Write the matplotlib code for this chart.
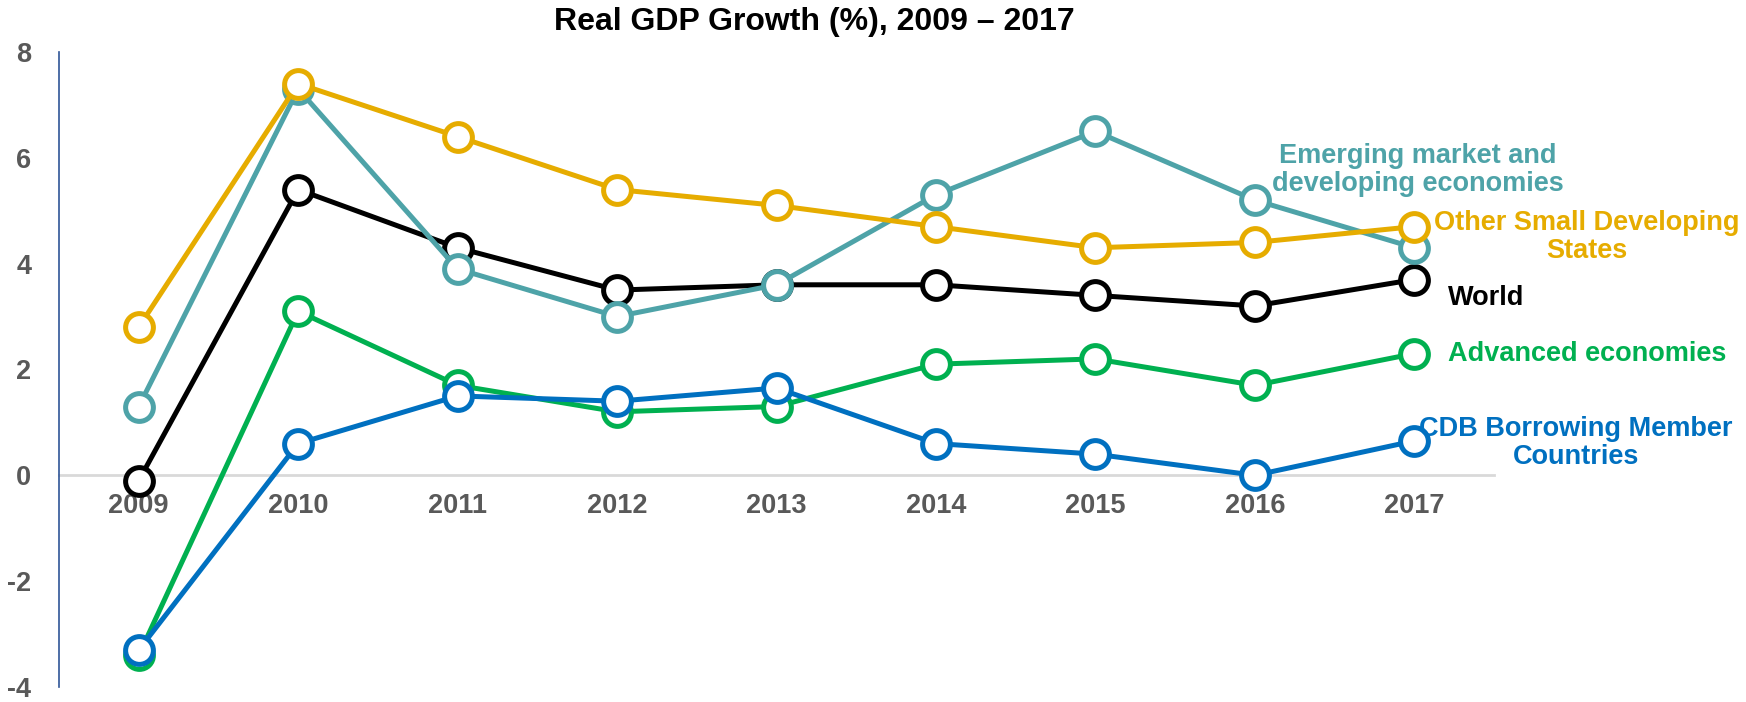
import matplotlib.pyplot as plt

plt.rcParams['font.family'] = ['Liberation Sans', 'DejaVu Sans']
plt.rcParams['axes.unicode_minus'] = False

# valores
anos = [2009, 2010, 2011, 2012, 2013, 2014, 2015, 2016, 2017]
mundo = [-0.1, 5.4, 4.3, 3.5, 3.6, 3.6, 3.4, 3.2, 3.7]
avancadas = [-3.4, 3.1, 1.7, 1.2, 1.3, 2.1, 2.2, 1.7, 2.3]
emergentes = [1.3, 7.3, 3.9, 3.0, 3.6, 5.3, 6.5, 5.2, 4.3]
pequenos = [2.8, 7.4, 6.4, 5.4, 5.1, 4.7, 4.3, 4.4, 4.7]
cdb = [-3.3, 0.6, 1.5, 1.4, 1.65, 0.6, 0.4, 0.0, 0.65]
y_ticks = [-4, -2, 0, 2, 4, 6, 8]

cinza = '#595959'
cores = {
    'mundo': '#000000',
    'avancadas': '#00B050',
    'emergentes': '#4EA3A8',
    'pequenos': '#E6AC00',
    'cdb': '#0070C0',
}

fig = plt.figure(figsize=(17.46, 7.02), dpi=100)
ax = fig.add_axes([0.0338, 0.0214, 0.8219, 0.9046])

series = [(mundo, 'mundo'), (avancadas, 'avancadas'), (emergentes, 'emergentes'),
          (pequenos, 'pequenos'), (cdb, 'cdb')]
for valores, nome in series:
    ax.plot(anos, valores, color=cores[nome], lw=3.6, marker='o', ms=20,
            mfc='white', mec=cores[nome], mew=3.6, zorder=3)

ax.set_xlim(2008.5, 2017.5)
ax.set_ylim(-4, 8)
ax.set_xticks(anos)
ax.set_yticks(y_ticks)

for s in ['top', 'right']:
    ax.spines[s].set_visible(False)
ax.spines['left'].set_color('#2F5597')
ax.spines['left'].set_linewidth(1.2)
ax.spines['bottom'].set_position(('data', 0))
ax.spines['bottom'].set_color('#D9D9D9')
ax.spines['bottom'].set_linewidth(2)
ax.spines['bottom'].set_zorder(1)

ax.tick_params(axis='x', length=0, pad=13, labelsize=19.5, labelcolor=cinza)
ax.tick_params(axis='y', length=0, pad=20, labelsize=19.5, labelcolor=cinza)
for t in ax.get_xticklabels() + ax.get_yticklabels():
    t.set_fontweight('bold')

fig.text(814 / 1746, 1 - 22 / 702, 'Real GDP Growth (%), 2009 – 2017',
         ha='center', va='center', fontsize=23, fontweight='bold')

def rotulo(x, y, texto, cor, ha='center'):
    fig.text(x / 1746, 1 - y / 702, texto, ha=ha, va='center', fontsize=19.5,
             fontweight='bold', color=cor, linespacing=1.1)

rotulo(1418, 170, 'Emerging market and\ndeveloping economies', cores['emergentes'])
rotulo(1587, 237, 'Other Small Developing\nStates', cores['pequenos'])
rotulo(1448, 298, 'World', cores['mundo'], ha='left')
rotulo(1448, 354, 'Advanced economies', cores['avancadas'], ha='left')
rotulo(1576, 443, 'CDB Borrowing Member\nCountries', cores['cdb'])

fig.savefig('out.png', dpi=100)
